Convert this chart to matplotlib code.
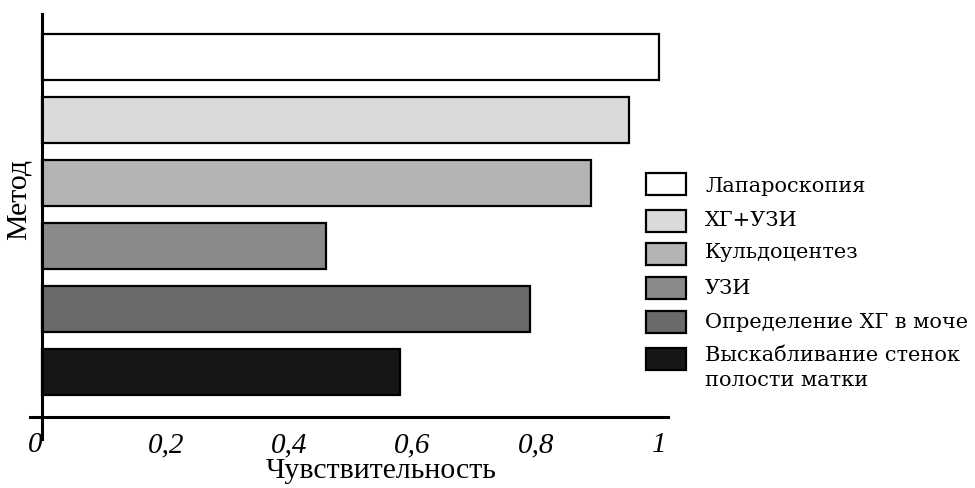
import numpy as np
from matplotlib import pyplot as plt
from matplotlib.patches import Rectangle

# данные (сверху вниз)
methods = ['Лапароскопия', 'ХГ+УЗИ', 'Кульдоцентез', 'УЗИ',
           'Определение ХГ в моче', 'Выскабливание стенок\nполости матки']
sensitivity = [1.0, 0.95, 0.89, 0.46, 0.79, 0.58]
colors = ['#ffffff', '#dadada', '#b4b4b4', '#8a8a8a', '#6a6a6a', '#161616']
xticks = [0, 0.2, 0.4, 0.6, 0.8, 1.0]
xtick_labels = ['0', '0,2', '0,4', '0,6', '0,8', '1']

fig = plt.figure(figsize=(9.75, 4.89), dpi=100)
ax = fig.add_axes([30 / 975, 1 - 440 / 489, 638 / 975, 425 / 489])

ypos = np.arange(len(methods))[::-1]
ax.barh(ypos, sensitivity, height=0.73, color=colors,
        edgecolor='black', linewidth=1.6)

ax.set_xlim(-0.02, 1.014)
ax.set_ylim(-1.063, 5.683)

# оси
for side in ['top', 'right']:
    ax.spines[side].set_visible(False)
ax.spines['left'].set_position(('data', 0))
ax.spines['bottom'].set_position(('data', -0.714))
ax.spines['left'].set_linewidth(2.2)
ax.spines['bottom'].set_linewidth(2.2)

ax.set_yticks([])
ax.set_xticks(xticks)
ax.set_xticklabels(xtick_labels, family='Liberation Serif', style='italic', fontsize=21)
ax.tick_params(axis='x', length=0, pad=10)
ax.get_xticklabels()[0].set_horizontalalignment('right')

fig.text(381 / 975, 1 - 471 / 489, 'Чувствительность', family='Liberation Serif',
         fontsize=21.5, ha='center', va='center')
fig.text(19 / 975, 1 - 200 / 489, 'Метод', family='Liberation Serif',
         fontsize=21.5, ha='center', va='center', rotation=90)

# легенда вручную
box_y = [185, 222, 255, 289, 323, 360]
text_y = [187, 221, 253, 288, 322, 368]
for i, (lab, col) in enumerate(zip(methods, colors)):
    yc = box_y[i]
    fig.patches.append(Rectangle((646 / 975, 1 - (yc + 11) / 489), 40 / 975, 22 / 489,
                                 transform=fig.transFigure, facecolor=col,
                                 edgecolor='black', linewidth=1.6))
    fig.text(705 / 975, 1 - text_y[i] / 489, lab, family='DejaVu Serif', fontsize=15,
             ha='left', va='center', linespacing=1.4)

plt.savefig('out.png', dpi=100)
plt.close()
